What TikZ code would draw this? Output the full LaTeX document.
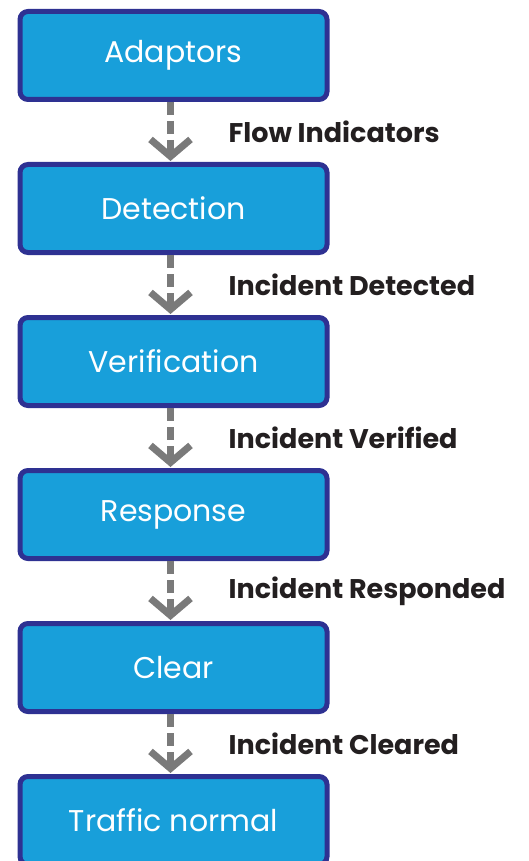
\documentclass[tikz,border=0pt]{standalone}
\usepackage{fontspec}
\setmainfont{Poppins}
\usetikzlibrary{calc, positioning, arrows.meta}

\definecolor{boxblue}{HTML}{189FDA}
\definecolor{boxedge}{HTML}{2E3192}
\definecolor{flowgray}{HTML}{7A7A7A}
\definecolor{labeltext}{HTML}{231F20}

\tikzset{
    stage/.style = {draw = boxedge, line width = 5pt, fill = boxblue, rounded corners = 8pt, minimum width = 307pt, minimum height = 88pt, inner sep = 0pt, text = white, font = \fontsize{30}{32}\selectfont},
    flow/.style = {flowgray, line width = 7pt, dash pattern = on 13pt off 6pt, shorten > = 1pt, -{Straight Barb[length = 17pt, width = 40pt]}},
    flowlabel/.style = {anchor = west, inner sep = 0pt, text = labeltext, font = \fontsize{27}{29}\selectfont\bfseries}
}

\begin{document}
\begin{tikzpicture}[x = 1pt, y = 1pt, node distance = 60pt]
            \useasboundingbox (0, 0) rectangle (528, -861);

            \node[stage] (adaptors) at (173.5, -55.5) {Adaptors};
            \node[stage, below = of adaptors] (detection) {Detection};
            \node[stage, below = of detection] (verification) {Verification};
            \node[stage, below = of verification] (response) {Response};
            \node[stage, below = of response] (clear) {Clear};
            \node[stage, below = of clear] (normal) {Traffic normal};

            \foreach \a/\b/\t in {adaptors/detection/Flow Indicators, detection/verification/Incident Detected, verification/response/Incident Verified, response/clear/Incident Responded, clear/normal/Incident Cleared} {
                \draw[flow] ([xshift = -3pt]\a.south) -- ([xshift = -3pt]\b.north);
                \node[flowlabel] (lbl-\a) at ($(\a.south)!0.5!(\b.north) + (55, 0)$) {\t};
            }
\end{tikzpicture}
\end{document}
